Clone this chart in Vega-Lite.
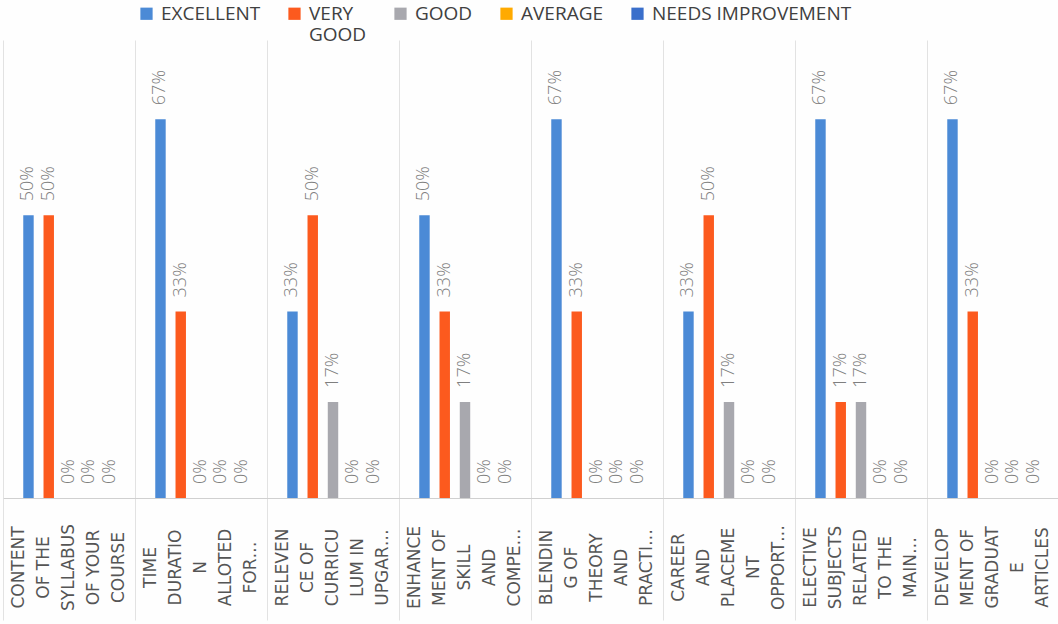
{
  "$schema": "https://vega.github.io/schema/vega-lite/v6.json",
  "width": 1056,
  "height": 458,
  "autosize": {"type": "none"},
  "padding": {"left": 3, "top": 40, "right": 0, "bottom": 126},
  "background": "#fefefe",
  "config": {
    "view": {"stroke": null},
    "font": "Open Sans"
  },
  "data": {
    "values": [
      {"item": "CONTENT|OF THE|SYLLABUS|OF YOUR|COURSE", "rating": "EXCELLENT", "share": 0.5},
      {"item": "CONTENT|OF THE|SYLLABUS|OF YOUR|COURSE", "rating": "VERY GOOD", "share": 0.5},
      {"item": "CONTENT|OF THE|SYLLABUS|OF YOUR|COURSE", "rating": "GOOD", "share": 0},
      {"item": "CONTENT|OF THE|SYLLABUS|OF YOUR|COURSE", "rating": "AVERAGE", "share": 0},
      {"item": "CONTENT|OF THE|SYLLABUS|OF YOUR|COURSE", "rating": "NEEDS IMPROVEMENT", "share": 0},
      {"item": "TIME|DURATIO|N|ALLOTED|FOR…", "rating": "EXCELLENT", "share": 0.67},
      {"item": "TIME|DURATIO|N|ALLOTED|FOR…", "rating": "VERY GOOD", "share": 0.33},
      {"item": "TIME|DURATIO|N|ALLOTED|FOR…", "rating": "GOOD", "share": 0},
      {"item": "TIME|DURATIO|N|ALLOTED|FOR…", "rating": "AVERAGE", "share": 0},
      {"item": "TIME|DURATIO|N|ALLOTED|FOR…", "rating": "NEEDS IMPROVEMENT", "share": 0},
      {"item": "RELEVEN|CE OF|CURRICU|LUM IN|UPGAR…", "rating": "EXCELLENT", "share": 0.33},
      {"item": "RELEVEN|CE OF|CURRICU|LUM IN|UPGAR…", "rating": "VERY GOOD", "share": 0.5},
      {"item": "RELEVEN|CE OF|CURRICU|LUM IN|UPGAR…", "rating": "GOOD", "share": 0.17},
      {"item": "RELEVEN|CE OF|CURRICU|LUM IN|UPGAR…", "rating": "AVERAGE", "share": 0},
      {"item": "RELEVEN|CE OF|CURRICU|LUM IN|UPGAR…", "rating": "NEEDS IMPROVEMENT", "share": 0},
      {"item": "ENHANCE|MENT OF|SKILL|AND|COMPE…", "rating": "EXCELLENT", "share": 0.5},
      {"item": "ENHANCE|MENT OF|SKILL|AND|COMPE…", "rating": "VERY GOOD", "share": 0.33},
      {"item": "ENHANCE|MENT OF|SKILL|AND|COMPE…", "rating": "GOOD", "share": 0.17},
      {"item": "ENHANCE|MENT OF|SKILL|AND|COMPE…", "rating": "AVERAGE", "share": 0},
      {"item": "ENHANCE|MENT OF|SKILL|AND|COMPE…", "rating": "NEEDS IMPROVEMENT", "share": 0},
      {"item": "BLENDIN|G OF|THEORY|AND|PRACTI…", "rating": "EXCELLENT", "share": 0.67},
      {"item": "BLENDIN|G OF|THEORY|AND|PRACTI…", "rating": "VERY GOOD", "share": 0.33},
      {"item": "BLENDIN|G OF|THEORY|AND|PRACTI…", "rating": "GOOD", "share": 0},
      {"item": "BLENDIN|G OF|THEORY|AND|PRACTI…", "rating": "AVERAGE", "share": 0},
      {"item": "BLENDIN|G OF|THEORY|AND|PRACTI…", "rating": "NEEDS IMPROVEMENT", "share": 0},
      {"item": "CAREER|AND|PLACEME|NT|OPPORT…", "rating": "EXCELLENT", "share": 0.33},
      {"item": "CAREER|AND|PLACEME|NT|OPPORT…", "rating": "VERY GOOD", "share": 0.5},
      {"item": "CAREER|AND|PLACEME|NT|OPPORT…", "rating": "GOOD", "share": 0.17},
      {"item": "CAREER|AND|PLACEME|NT|OPPORT…", "rating": "AVERAGE", "share": 0},
      {"item": "CAREER|AND|PLACEME|NT|OPPORT…", "rating": "NEEDS IMPROVEMENT", "share": 0},
      {"item": "ELECTIVE|SUBJECTS|RELATED|TO THE|MAIN…", "rating": "EXCELLENT", "share": 0.67},
      {"item": "ELECTIVE|SUBJECTS|RELATED|TO THE|MAIN…", "rating": "VERY GOOD", "share": 0.17},
      {"item": "ELECTIVE|SUBJECTS|RELATED|TO THE|MAIN…", "rating": "GOOD", "share": 0.17},
      {"item": "ELECTIVE|SUBJECTS|RELATED|TO THE|MAIN…", "rating": "AVERAGE", "share": 0},
      {"item": "ELECTIVE|SUBJECTS|RELATED|TO THE|MAIN…", "rating": "NEEDS IMPROVEMENT", "share": 0},
      {"item": "DEVELOP|MENT OF|GRADUAT|E|ARTICLES", "rating": "EXCELLENT", "share": 0.67},
      {"item": "DEVELOP|MENT OF|GRADUAT|E|ARTICLES", "rating": "VERY GOOD", "share": 0.33},
      {"item": "DEVELOP|MENT OF|GRADUAT|E|ARTICLES", "rating": "GOOD", "share": 0},
      {"item": "DEVELOP|MENT OF|GRADUAT|E|ARTICLES", "rating": "AVERAGE", "share": 0},
      {"item": "DEVELOP|MENT OF|GRADUAT|E|ARTICLES", "rating": "NEEDS IMPROVEMENT", "share": 0}
    ]
  },
  "encoding": {
    "x": {
      "field": "item",
      "type": "nominal",
      "sort": null,
      "scale": {"paddingInner": 0, "paddingOuter": 0},
      "axis": {
        "title": null,
        "bandPosition": 0,
        "grid": true,
        "gridColor": "#e2e2e2",
        "gridWidth": 1,
        "domainColor": "#d0d0d0",
        "domainWidth": 1,
        "ticks": true,
        "tickSize": 122,
        "tickColor": "#e2e2e2",
        "tickWidth": 1,
        "labelAngle": -90,
        "labelAlign": "center",
        "labelBaseline": "middle",
        "labelPadding": -53,
        "labelOffset": -50,
        "labelFont": "DejaVu Sans",
        "labelFontSize": 17,
        "labelLineHeight": 25,
        "labelColor": "#555555",
        "labelLimit": 0,
        "labelOverlap": false,
        "labelExpr": "split(datum.label, '|')"
      }
    },
    "xOffset": {
      "field": "rating",
      "type": "nominal",
      "sort": ["EXCELLENT", "VERY GOOD", "GOOD", "AVERAGE", "NEEDS IMPROVEMENT"],
      "scale": {"paddingInner": 0.485, "paddingOuter": 1.14}
    },
    "y": {
      "field": "share",
      "type": "quantitative",
      "scale": {"domain": [0, 0.81], "nice": false},
      "axis": null
    }
  },
  "layer": [
    {
      "mark": {"type": "bar"},
      "encoding": {
        "color": {
          "field": "rating",
          "type": "nominal",
          "sort": ["EXCELLENT", "VERY GOOD", "GOOD", "AVERAGE", "NEEDS IMPROVEMENT"],
          "scale": {
            "domain": ["EXCELLENT", "VERY GOOD", "GOOD", "AVERAGE", "NEEDS IMPROVEMENT"],
            "range": ["#4b8ad6", "#fc5a1e", "#a8a8ae", "#ffaa00", "#3a6fcb"]
          },
          "legend": {
            "orient": "none",
            "direction": "horizontal",
            "legendX": 134,
            "legendY": -36,
            "title": null,
            "symbolType": "square",
            "symbolSize": 150,
            "symbolStrokeWidth": 0,
            "labelFont": "Open Sans",
            "labelFontSize": 19,
            "labelColor": "#404040",
            "labelOffset": 5,
            "labelLimit": 0,
            "columnPadding": 24,
            "labelBaseline": "middle",
            "labelLineHeight": 25,
            "labelExpr": "datum.label == 'VERY GOOD' ? ['VERY', 'GOOD'] : [datum.label, '']"
          }
        }
      }
    },
    {
      "mark": {
        "type": "text",
        "angle": -90,
        "align": "left",
        "baseline": "middle",
        "dx": 14,
        "font": "Open Sans",
        "fontSize": 18,
        "fontWeight": 300,
        "color": "#7f7f7f"
      },
      "encoding": {
        "text": {"field": "share", "type": "quantitative", "format": ".0%"}
      }
    }
  ]
}
